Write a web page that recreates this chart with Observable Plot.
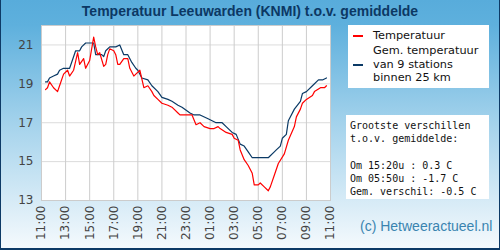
<!DOCTYPE html>
<html>
<head>
<meta charset="utf-8">
<script src="https://cdn.jsdelivr.net/npm/d3@7"></script>
<script src="https://cdn.jsdelivr.net/npm/@observablehq/plot@0.6"></script>
<style>
  html, body { margin: 0; padding: 0; background: #fff; }
  #chart {
    position: relative; width: 500px; height: 250px; overflow: hidden;
    background: linear-gradient(to bottom, #58acdb 0%, #5eb0dd 10%, #a5d3ec 50%, #f6fafd 100%);
    font-family: "Liberation Sans", Arial, sans-serif;
  }
  #chart svg { position: absolute; left: 0; top: 0; }
  #edge {
    position: absolute; left: 0; top: 0; width: 500px; height: 250px; box-sizing: border-box;
    border: 1px solid #0d3a66; border-top: none; border-bottom-width: 2px; pointer-events: none;
  }
  #title {
    position: absolute; left: 0; top: 3px; width: 500px; text-align: center;
    font: bold 14px/16px "Liberation Sans", Arial, sans-serif; color: #0c3864;
  }
  #legend {
    position: absolute; left: 348px; top: 25px; width: 141px; height: 63px; background: #fff;
    font: 11.3px/13.5px "DejaVu Sans", sans-serif; color: #111;
  }
  .item { position: absolute; left: 25px; }
  .swatch { position: absolute; left: 5px; width: 10px; height: 2px; }
  #info {
    position: absolute; left: 346px; top: 115px; width: 139px; height: 80px; background: #fff;
    padding: 4px 0 0 4px; font: 10px/13.3px "DejaVu Sans Mono", monospace; color: #111; white-space: pre;
  }
  #credit {
    position: absolute; left: 360px; top: 217px;
    font: 14px/18px "Liberation Sans", Arial, sans-serif; color: #3a84b0;
  }
</style>
</head>
<body>
<div id="chart">
  <div id="title">Temperatuur Leeuwarden (KNMI) t.o.v. gemiddelde</div>
  <div id="legend">
    <div class="swatch" style="top:10px;background:#ff0000"></div>
    <div class="item" style="top:4px">Temperatuur</div>
    <div class="swatch" style="top:39px;background:#0b3a66"></div>
    <div class="item" style="top:19px">Gem. temperatuur<br>van 9 stations<br>binnen 25 km</div>
  </div>
  <div id="info"></div>
  <div id="credit">(c) Hetweeractueel.nl</div>
  <div id="edge"></div>
</div>
<script>
// Measured temperature at Leeuwarden (KNMI), 10-minute readings
const tempTimes = ["11:20","11:30","11:40","12:00","12:20","12:30","12:50","13:10","13:20","13:40",
  "14:00","14:10","14:30","14:40","15:00","15:20","15:30","15:40","15:50","16:10",
  "16:20","16:30","16:40","17:00","17:10","17:20","17:30","17:50","18:10","18:20",
  "18:40","18:50","19:10","19:30","19:50","20:10","20:20","20:40","21:00","21:30",
  "21:50","22:20","22:30","23:00","23:30","23:50","00:10","00:30","01:00","01:20",
  "01:40","01:50","02:20","02:50","03:00","03:20","03:30","03:50","04:10","04:30",
  "04:40","05:00","05:10","05:30","05:50","06:00","06:20","06:40","07:10","07:30",
  "08:00","08:10","08:30","08:40","09:00","09:30","09:40","10:10","10:30","10:40"];
const tempValues = [18.7,18.8,19.1,18.8,18.6,18.9,19.5,19.7,19.4,19.7,
  20.6,20.0,20.3,19.8,20.2,21.4,20.9,20.5,20.6,19.9,
  20.0,20.5,20.8,20.7,20.5,20.0,20.0,20.3,20.3,19.8,
  19.4,19.5,19.7,18.8,18.9,18.6,18.4,18.2,18.0,17.9,
  17.8,17.5,17.4,17.4,17.4,16.9,17.0,16.8,16.7,16.7,
  16.8,16.7,16.5,16.4,16.2,16.1,15.6,15.1,14.8,14.4,
  13.8,13.8,13.9,13.7,13.5,13.7,14.3,14.9,15.4,16.1,
  16.8,17.3,17.7,18.0,18.2,18.4,18.6,18.8,18.8,18.9];

// Mean temperature of 9 stations within 25 km
const avgTimes = ["11:20","11:30","11:40","12:00","12:20","12:30","12:50","13:20","13:30","13:50",
  "14:10","14:20","14:40","15:00","15:20","15:30","16:00","16:10","16:20","16:40",
  "17:10","17:30","17:50","18:10","18:30","18:50","19:00","19:20","19:50","20:10",
  "20:40","21:00","21:30","21:50","22:20","22:40","23:20","23:40","00:10","00:50",
  "01:30","02:00","02:20","02:50","03:10","03:30","03:50","04:10","04:30","05:50",
  "06:00","06:20","06:30","06:50","07:00","07:20","07:30","08:00","08:30","08:40",
  "09:00","09:30","10:00","10:20","10:40"];
const avgValues = [19.1,19.1,19.3,19.4,19.5,19.7,19.8,19.8,20.1,20.7,
  20.7,20.9,21.1,21.1,21.1,20.5,20.5,20.4,20.7,20.9,
  20.9,21.0,20.5,20.5,20.1,19.8,19.7,19.3,19.2,18.9,
  18.6,18.3,18.2,18.1,17.9,17.8,17.5,17.4,17.4,17.2,
  17.0,17.0,16.8,16.5,16.4,15.9,15.8,15.5,15.2,15.2,
  15.3,15.5,15.6,15.8,16.2,16.4,17.1,17.7,18.1,18.5,
  18.6,18.9,19.2,19.2,19.3];

const yTicks = [13, 15, 17, 19, 21];
const xTickLabels = ["11:00","13:00","15:00","17:00","19:00","21:00","23:00",
  "01:00","03:00","05:00","07:00","09:00","11:00"];

const infoLines = ["Grootste verschillen", "t.o.v. gemiddelde:", "",
  "Om 15:20u : 0.3 C", "Om 05:50u : -1.7 C", "Gem. verschil: -0.5 C"];

// hours elapsed since 11:00, wrapping past midnight
const hoursSince11 = t => {
  const [H, M] = t.split(":").map(Number);
  return (((H * 60 + M) - 660 + 1440) % 1440) / 60;
};
const toRows = (times, values) => times.map((t, i) => ({h: hoursSince11(t), v: values[i]}));
const tempRows = toRows(tempTimes, tempValues);
const avgRows = toRows(avgTimes, avgValues);
const xTicks = xTickLabels.map((_, i) => i * 2);

document.getElementById("info").textContent = infoLines.join("\n");

const chart = Plot.plot({
  width: 500,
  height: 250,
  marginLeft: 41,
  marginRight: 170,
  marginTop: 25,
  marginBottom: 50,
  style: {background: "transparent", fontFamily: "DejaVu Sans", fontSize: "12px", color: "#444"},
  x: {domain: [0, 24]},
  y: {domain: [13, 22]},
  marks: [
    Plot.frame({fill: "white"}),
    Plot.gridY(yTicks, {stroke: "#dcdcdc", strokeOpacity: 1}),
    Plot.gridX(xTicks, {stroke: "#cccccc", strokeOpacity: 1}),
    Plot.frame({stroke: "#cccccc"}),
    Plot.line(avgRows, {x: "h", y: "v", stroke: "#0b3a66", strokeWidth: 1.2}),
    Plot.line(tempRows, {x: "h", y: "v", stroke: "#ff0000", strokeWidth: 1.2}),
    Plot.axisY(yTicks, {tickSize: 0, tickPadding: 8, label: null}),
    Plot.axisX(xTicks, {tickSize: 0, tickPadding: 5, tickRotate: -90, label: null,
      tickFormat: d => xTickLabels[Math.round(d / 2)]})
  ]
});
document.getElementById("chart").insertBefore(chart, document.getElementById("title"));
</script>
</body>
</html>
